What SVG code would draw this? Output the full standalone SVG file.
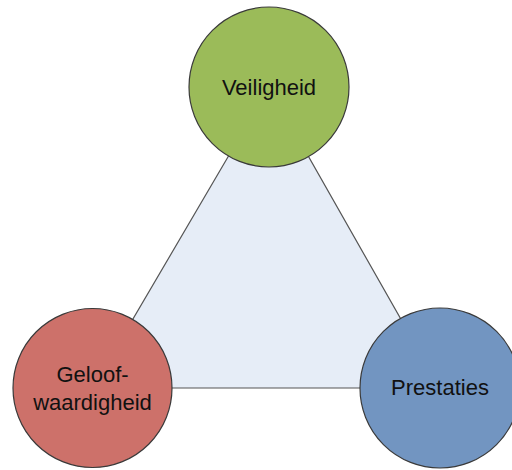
<svg xmlns="http://www.w3.org/2000/svg" width="512" height="470" viewBox="0 0 512 470">
  <style>
    .node { stroke: #3a3a3a; stroke-width: 1.2; }
    .label { font-family: "Liberation Sans", Arial, sans-serif; font-size: 22px; fill: #111; text-anchor: middle; }
    .edge { fill: #e6edf7; stroke: #555; stroke-width: 1.2; }
  </style>
  <rect width="512" height="470" fill="#ffffff"/>
  <g id="connectors">
    <polygon class="edge" points="269,87 92.5,388 440,388"/>
  </g>
  <g id="veiligheid">
    <circle class="node" cx="269" cy="87" r="80" fill="#9bbb59"/>
    <text class="label" x="269" y="95">Veiligheid</text>
  </g>
  <g id="geloofwaardigheid">
    <circle class="node" cx="92.5" cy="388" r="79.5" fill="#cd716a"/>
    <text class="label" x="92.5" y="382">Geloof-</text>
    <text class="label" x="92.5" y="410">waardigheid</text>
  </g>
  <g id="prestaties">
    <circle class="node" cx="440" cy="388" r="80" fill="#7295c1"/>
    <text class="label" x="440" y="395">Prestaties</text>
  </g>
</svg>
